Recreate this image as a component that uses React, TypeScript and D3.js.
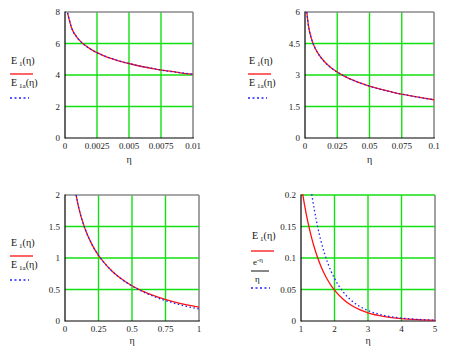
import React from "react";
import * as d3 from "d3";

// η sample points and E1 values per panel
const eta1 = [0.0002, 0.0005, 0.001, 0.0015, 0.002, 0.0025, 0.003, 0.004, 0.005, 0.006, 0.007, 0.008, 0.009, 0.01];
const e1p1 = [7.94, 7.02, 6.33, 5.93, 5.64, 5.42, 5.23, 4.95, 4.73, 4.54, 4.39, 4.26, 4.14, 4.04];
const e1ap1 = [7.94, 7.03, 6.33, 5.92, 5.64, 5.41, 5.24, 4.95, 4.72, 4.55, 4.39, 4.25, 4.15, 4.04];

const eta2 = [0.0014, 0.0025, 0.005, 0.0075, 0.01, 0.015, 0.02, 0.025, 0.03, 0.04, 0.05, 0.06, 0.07, 0.08, 0.09, 0.1];
const e1p2 = [6.0, 5.42, 4.73, 4.32, 4.04, 3.64, 3.36, 3.14, 2.96, 2.68, 2.47, 2.3, 2.15, 2.03, 1.92, 1.82];
const e1ap2 = [6.0, 5.41, 4.72, 4.32, 4.04, 3.63, 3.35, 3.13, 2.96, 2.68, 2.47, 2.29, 2.15, 2.03, 1.92, 1.82];

const eta3 = [0.083, 0.1, 0.15, 0.2, 0.25, 0.3, 0.35, 0.4, 0.5, 0.6, 0.7, 0.8, 0.9, 1.0];
const e1p3 = [2.0, 1.82, 1.46, 1.22, 1.04, 0.906, 0.794, 0.702, 0.56, 0.454, 0.374, 0.311, 0.26, 0.22];
const e1ap3 = [2.0, 1.82, 1.46, 1.22, 1.04, 0.905, 0.792, 0.7, 0.555, 0.446, 0.36, 0.292, 0.235, 0.19];

const eta4r = [1.05, 1.1, 1.2, 1.3, 1.4, 1.5, 1.6, 1.7, 1.8, 1.9, 2.0, 2.25, 2.5, 2.75, 3.0, 3.5, 4.0, 4.5, 5.0];
const e1p4 = [0.2015, 0.186, 0.1584, 0.1355, 0.1162, 0.1, 0.0863, 0.0747, 0.0647, 0.0562, 0.0489, 0.0349, 0.0249, 0.018, 0.013, 0.007, 0.0038, 0.0021, 0.0011];
const eta4b = [1.32, 1.4, 1.5, 1.6, 1.7, 1.8, 1.9, 2.0, 2.25, 2.5, 2.75, 3.0, 3.5, 4.0, 4.5, 5.0];
const expOverEta = [0.2015, 0.1761, 0.1487, 0.1262, 0.1075, 0.0918, 0.0787, 0.0677, 0.0468, 0.0328, 0.0232, 0.0166, 0.0086, 0.0046, 0.0025, 0.0013];

// axis ticks
const xTicks1 = ["0", "0.0025", "0.005", "0.0075", "0.01"];
const yTicks1 = ["0", "2", "4", "6", "8"];
const xTicks2 = ["0", "0.025", "0.05", "0.075", "0.1"];
const yTicks2 = ["0", "1.5", "3", "4.5", "6"];
const xTicks3 = ["0", "0.25", "0.5", "0.75", "1"];
const yTicks3 = ["0", "0.5", "1", "1.5", "2"];
const xTicks4 = ["1", "2", "3", "4", "5"];
const yTicks4 = ["0", "0.05", "0.1", "0.15", "0.2"];

const FONT = "Liberation Serif";
const GREEN = "#11e011";

type PanelProps = {
  id: string;
  box: [number, number, number, number]; // left, top, right, bottom
  xt: string[];
  yt: string[];
  red: [number[], number[]];
  blue: [number[], number[]];
  topGrid?: boolean;
  labelBase: number;
  etaBase: number;
  legend: React.ReactNode;
};

function Panel({ id, box, xt, yt, red, blue, topGrid, labelBase, etaBase, legend }: PanelProps) {
  const [l, t, r, b] = box;
  const xv = xt.map(Number);
  const yv = yt.map(Number);
  const x = d3.scaleLinear().domain([xv[0], xv[xv.length - 1]]).range([l, r]);
  const y = d3.scaleLinear().domain([yv[0], yv[yv.length - 1]]).range([b, t]);
  const line = d3
    .line<[number, number]>()
    .x((d) => x(d[0]))
    .y((d) => y(d[1]))
    .curve(d3.curveMonotoneX);
  const redPts = red[0].map((v, i) => [v, red[1][i]] as [number, number]);
  const bluePts = blue[0].map((v, i) => [v, blue[1][i]] as [number, number]);
  const gx = xv.slice(1, -1);
  const gy = topGrid ? yv.slice(1) : yv.slice(1, -1);

  return (
    <g>
      <clipPath id={id}>
        <rect x={l} y={t - 1} width={r - l} height={b - t + 1} />
      </clipPath>
      {/* grid */}
      {gx.map((v) => (
        <line key={"gx" + v} x1={x(v)} x2={x(v)} y1={t} y2={b} stroke={GREEN} strokeWidth={1.4} />
      ))}
      {/* frame: top/right grey, left/bottom black */}
      {!topGrid && <line x1={l} x2={r} y1={t} y2={t} stroke="#8a8a8a" strokeWidth={1.6} />}
      <line x1={r} x2={r} y1={t} y2={b} stroke="#8a8a8a" strokeWidth={1.6} />
      {gy.map((v) => (
        <line key={"gy" + v} x1={l} x2={r} y1={y(v)} y2={y(v)} stroke={GREEN} strokeWidth={1.4} />
      ))}
      <line x1={l} x2={l} y1={t - 0.5} y2={b + 0.5} stroke="#000" strokeWidth={1.2} />
      <line x1={l} x2={r + 0.8} y1={b} y2={b} stroke="#000" strokeWidth={1.2} />
      {/* curves */}
      <g clipPath={`url(#${id})`}>
        <path d={line(redPts) || ""} fill="none" stroke="#ff1010" strokeWidth={1.3} />
        <path d={line(bluePts) || ""} fill="none" stroke="#2020ff" strokeWidth={1.3} strokeDasharray="1.5,2.5" />
      </g>
      {/* tick labels */}
      {yt.map((s, i) => (
        <text key={"yt" + s} x={l - 5} y={y(yv[i]) + 3} textAnchor="end" fontFamily={FONT} fontSize={9} fill="#222">
          {s}
        </text>
      ))}
      {xt.map((s, i) => (
        <text key={"xt" + s} x={x(xv[i])} y={labelBase} textAnchor="middle" fontFamily={FONT} fontSize={9} fill="#222">
          {s}
        </text>
      ))}
      <text x={(l + r) / 2} y={etaBase} textAnchor="middle" fontFamily={FONT} fontSize={10} fill="#222">
        η
      </text>
      {legend}
    </g>
  );
}

function ELabel({ x, y, sub }: { x: number; y: number; sub: string }) {
  return (
    <text x={x} y={y} fontFamily={FONT} fontSize={10} fill="#111">
      E
      <tspan dx={2} dy={2} fontSize={7}>
        {sub}
      </tspan>
      <tspan dy={-2}>(η)</tspan>
    </text>
  );
}

function StdLegend({ x, y }: { x: number; y: number }) {
  return (
    <g>
      <ELabel x={x} y={y} sub="1" />
      <line x1={x - 1} x2={x + 22} y1={y + 10} y2={y + 10} stroke="#ff1010" strokeWidth={1.3} />
      <ELabel x={x} y={y + 22} sub="1a" />
      <line x1={x - 1} x2={x + 18} y1={y + 34} y2={y + 34} stroke="#2020ff" strokeWidth={1.3} strokeDasharray="2,2.5" />
    </g>
  );
}

function ExpLegend({ x, y }: { x: number; y: number }) {
  return (
    <g>
      <ELabel x={x} y={y} sub="1" />
      <line x1={x - 1} x2={x + 22} y1={y + 12} y2={y + 12} stroke="#ff1010" strokeWidth={1.3} />
      <text x={x + 1} y={y + 26} fontFamily={FONT} fontSize={9} fill="#111">
        e
        <tspan dy={-3} fontSize={7}>
          -η
        </tspan>
      </text>
      <line x1={x - 1} x2={x + 17} y1={y + 32} y2={y + 32} stroke="#111" strokeWidth={1} />
      <text x={x + 3} y={y + 43} fontFamily={FONT} fontSize={9} fill="#111">
        η
      </text>
      <line x1={x - 1} x2={x + 18} y1={y + 49} y2={y + 49} stroke="#2020ff" strokeWidth={1.3} strokeDasharray="2,2.5" />
    </g>
  );
}

export default function App() {
  return (
    <svg
      width={460}
      height={351}
      style={{ position: "absolute", left: 0, top: 0, background: "#fff" }}
    >
      <Panel
        id="c1"
        box={[65, 12, 193, 138]}
        xt={xTicks1}
        yt={yTicks1}
        red={[eta1, e1p1]}
        blue={[eta1, e1ap1]}
        labelBase={149}
        etaBase={163}
        legend={<StdLegend x={11} y={64} />}
      />
      <Panel
        id="c2"
        box={[305, 12, 434, 138]}
        xt={xTicks2}
        yt={yTicks2}
        red={[eta2, e1p2]}
        blue={[eta2, e1ap2]}
        labelBase={149}
        etaBase={163}
        legend={<StdLegend x={249} y={64} />}
      />
      <Panel
        id="c3"
        box={[65, 195, 199, 321]}
        xt={xTicks3}
        yt={yTicks3}
        red={[eta3, e1p3]}
        blue={[eta3, e1ap3]}
        labelBase={332}
        etaBase={344}
        legend={<StdLegend x={11} y={246} />}
      />
      <Panel
        id="c4"
        box={[301, 195, 435, 321]}
        xt={xTicks4}
        yt={yTicks4}
        red={[eta4r, e1p4]}
        blue={[eta4b, expOverEta]}
        topGrid
        labelBase={332}
        etaBase={344}
        legend={<ExpLegend x={252} y={239} />}
      />
    </svg>
  );
}
